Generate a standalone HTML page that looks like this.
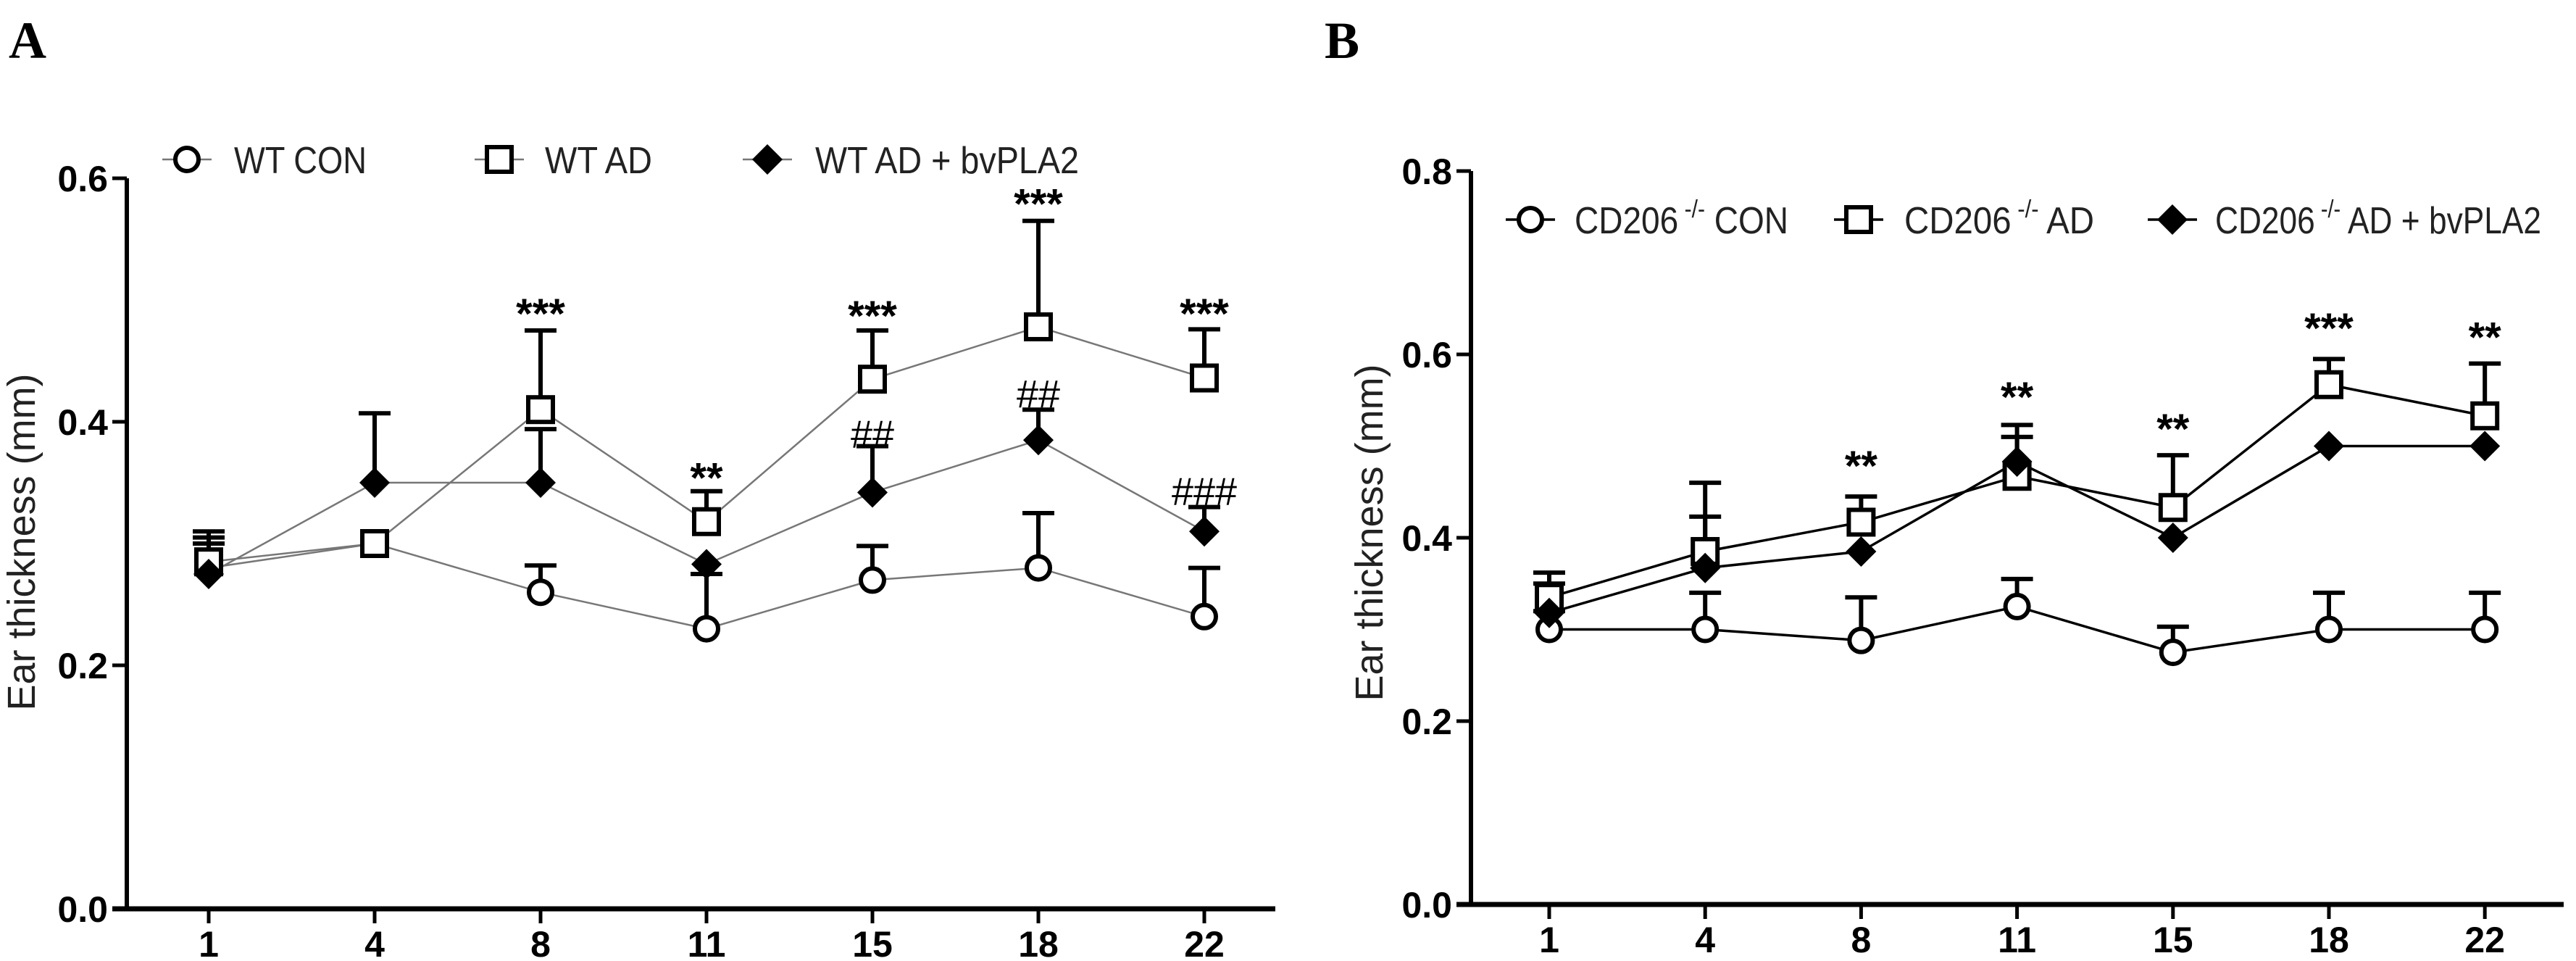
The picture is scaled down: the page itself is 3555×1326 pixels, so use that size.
<!DOCTYPE html>
<html><head><meta charset="utf-8"><style>
html,body{margin:0;padding:0;background:#fff;}
svg{display:block;}
text{font-family:"Liberation Sans",Arial,sans-serif;}
</style></head><body>
<svg id="fig" width="3555" height="1326" viewBox="0 0 3555 1326" xmlns="http://www.w3.org/2000/svg">
<text x="12" y="80" font-weight="bold" font-size="72" style="font-family:'Liberation Serif',serif">A</text>
<text x="1828" y="80" font-weight="bold" font-size="72" style="font-family:'Liberation Serif',serif">B</text>
</svg>
<script>
const categories = ["1","4","8","11","15","18","22"];
const yTicksA = [0.0, 0.2, 0.4, 0.6];
const yTicksB = [0.0, 0.2, 0.4, 0.6, 0.8];
// Panel A
const aCon = [0.28, 0.30, 0.26, 0.23, 0.27, 0.28, 0.24];
const aConErr = [0.305, null, 0.282, 0.275, 0.298, 0.325, 0.28];
const aAd = [0.285, 0.30, 0.41, 0.318, 0.435, 0.478, 0.436];
const aAdErr = [0.31, null, 0.475, 0.343, 0.475, 0.565, 0.476];
const aPla = [0.275, 0.35, 0.35, 0.283, 0.342, 0.385, 0.31];
const aPlaErr = [0.30, 0.407, 0.394, null, 0.38, 0.41, 0.33];
const aStars = ["", "", "***", "**", "***", "***", "***"];
const aStarY = [0, 0, 0.49, 0.355, 0.488, 0.58, 0.49];
const aHash = ["", "", "", "", "##", "##", "###"];
const aHashY = [0, 0, 0, 0, 0.392, 0.425, 0.345];
// Panel B
const bCon = [0.30, 0.30, 0.288, 0.325, 0.275, 0.30, 0.30];
const bConErr = [0.32, 0.34, 0.335, 0.355, 0.303, 0.34, 0.34];
const bAd = [0.335, 0.385, 0.417, 0.467, 0.433, 0.567, 0.533];
const bAdErr = [0.362, 0.46, 0.445, 0.51, 0.49, 0.595, 0.59];
const bPla = [0.318, 0.367, 0.385, 0.483, 0.40, 0.50, 0.50];
const bPlaErr = [0.35, 0.423, null, 0.523, null, null, null];
const bStars = ["", "", "**", "**", "**", "***", "**"];
const bStarY = [0, 0, 0.48, 0.555, 0.52, 0.63, 0.62];

const NS = "http://www.w3.org/2000/svg";
const svg = document.getElementById('fig');
function mk(tag, attrs, parent){const e=document.createElementNS(NS,tag);for(const k in attrs)e.setAttribute(k,attrs[k]);(parent||svg).appendChild(e);return e;}

function panel(cfg){
  const g = mk('g',{});
  
  
  const yMax = cfg.yTicks[cfg.yTicks.length-1];
  const ys = v => cfg.y0 - (v/yMax)*(cfg.y0-cfg.yTop);
  const xs = i => cfg.x1 + i*cfg.dx;
  const ya = mk('line',{x1:cfg.ax,y1:cfg.yTop,x2:cfg.ax,y2:cfg.y0,stroke:'#000','stroke-width':6},g);
  
  
  const xa = mk('line',{x1:cfg.ax-20,y1:cfg.y0,x2:cfg.xEnd,y2:cfg.y0,stroke:'#000','stroke-width':7},g);
  
  
  cfg.yTicks.forEach(t=>{
    mk('line',{x1:cfg.ax-20,y1:ys(t),x2:cfg.ax,y2:ys(t),stroke:'#000','stroke-width':5},g);
    const tl = mk('text',{x:cfg.ax-26,y:ys(t)+18,'text-anchor':'end','font-size':50,'font-weight':'bold'},g);
    tl.textContent = t.toFixed(1);
    
    
  });
  categories.forEach((c,i)=>{
    mk('line',{x1:xs(i),y1:cfg.y0,x2:xs(i),y2:cfg.y0+20,stroke:'#000','stroke-width':5},g);
    const tl = mk('text',{x:xs(i),y:cfg.y0+66,'text-anchor':'middle','font-size':50,'font-weight':'bold'},g);
    tl.textContent = c;
    
    
  });
  const yt = mk('text',{x:0,y:0,'text-anchor':'middle','font-size':54,fill:'#222',transform:`translate(${cfg.titleX},${cfg.titleY}) rotate(-90)`},g);
  yt.textContent = 'Ear thickness (mm)';
  
  
  const series = [
    {vals:cfg.con, err:cfg.conErr, m:'circle', name:'series-con'},
    {vals:cfg.ad, err:cfg.adErr, m:'square', name:'series-ad'},
    {vals:cfg.pla, err:cfg.plaErr, m:'diamond', name:'series-bvpla2'}
  ];
  series.forEach(s=>{
    s.err.forEach((e,i)=>{
      if(e==null) return;
      const eb = mk('path',{d:`M${xs(i)},${ys(s.vals[i])}V${ys(e)}M${xs(i)-22},${ys(e)}H${xs(i)+22}`,stroke:'#000','stroke-width':6,fill:'none'},g);
      
      
    });
  });
  series.forEach(s=>{
    const pts = s.vals.map((v,i)=>xs(i)+','+ys(v)).join(' ');
    const ln = mk('polyline',{points:pts,fill:'none',stroke:cfg.lineColor,'stroke-width':cfg.lineW},g);
    
    
  });
  series.forEach(s=>{
    s.vals.forEach((v,i)=>{
      const mkr = marker(g, s.m, xs(i), ys(v));
      
      
    });
  });
  cfg.stars.forEach((s,i)=>{
    if(!s) return;
    const t = mk('text',{x:xs(i),y:ys(cfg.starY[i])+22,'text-anchor':'middle','font-size':58,'font-weight':'bold'},g);
    t.textContent = s;
    
    
  });
  (cfg.hash||[]).forEach((s,i)=>{
    if(!s) return;
    const t = mk('text',{x:xs(i),y:ys(cfg.hashY[i])+22,'text-anchor':'middle','font-size':54},g);
    t.textContent = s;
    
    
  });
  cfg.legend.forEach(L=>{
    const lg = mk('g',{},g);
    
    
    mk('line',{x1:L.mx-34,y1:cfg.legY,x2:L.mx+34,y2:cfg.legY,stroke:cfg.lineColor,'stroke-width':cfg.lineW},lg);
    marker(lg, L.m, L.mx, cfg.legY);
    const t = mk('text',{x:L.tx,y:cfg.legY+19,'font-size':52,fill:'#222',textLength:L.w,lengthAdjust:'spacingAndGlyphs'},lg);
    if(L.sup){
      t.appendChild(document.createTextNode(L.pre));
      const ts = mk('tspan',{dy:-22,'font-size':34},t); ts.textContent=' -/-';
      const t2 = mk('tspan',{dy:22},t); t2.textContent=L.post;
    } else t.textContent = L.text;
  });
}
function marker(g, m, x, y){
  if(m==='circle') return mk('circle',{cx:x,cy:y,r:16,fill:'#fff',stroke:'#000','stroke-width':6},g);
  if(m==='square') return mk('rect',{x:x-17,y:y-17,width:34,height:34,fill:'#fff',stroke:'#000','stroke-width':6},g);
  return mk('path',{d:`M${x},${y-21}L${x+21},${y}L${x},${y+21}L${x-21},${y}Z`,fill:'#000'},g);
}
panel({name:'panel-a', ax:175, y0:1254, yTop:246, x1:288, dx:229, xEnd:1760, yTicks:yTicksA,
  con:aCon, conErr:aConErr, ad:aAd, adErr:aAdErr, pla:aPla, plaErr:aPlaErr,
  stars:aStars, starY:aStarY, hash:aHash, hashY:aHashY, lineColor:'#777', lineW:2.5,
  titleX:48, titleY:748, legY:220,
  legend:[{m:'circle',mx:258,tx:323,w:183,text:'WT CON'},{m:'square',mx:689,tx:752,w:148,text:'WT AD'},{m:'diamond',mx:1059,tx:1125,w:364,text:'WT AD + bvPLA2'}]});
panel({name:'panel-b', ax:2030, y0:1248, yTop:236, x1:2138, dx:215.2, xEnd:3538, yTicks:yTicksB,
  con:bCon, conErr:bConErr, ad:bAd, adErr:bAdErr, pla:bPla, plaErr:bPlaErr,
  stars:bStars, starY:bStarY, lineColor:'#000', lineW:3.5,
  titleX:1908, titleY:735, legY:303,
  legend:[{m:'circle',mx:2112,tx:2173,w:295,sup:true,pre:'CD206',post:' CON'},{m:'square',mx:2565,tx:2628,w:262,sup:true,pre:'CD206',post:' AD'},{m:'diamond',mx:2998,tx:3057,w:450,sup:true,pre:'CD206',post:' AD + bvPLA2'}]});
</script>
</body></html>
